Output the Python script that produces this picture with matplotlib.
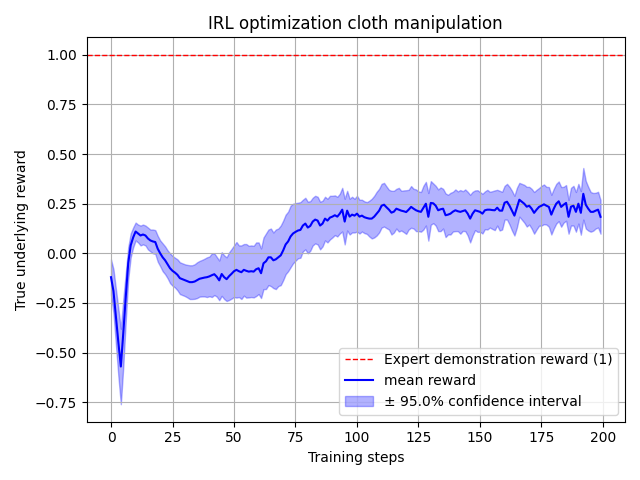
import matplotlib
matplotlib.use("Agg")
import matplotlib.pyplot as plt
import numpy as np

TITLE = "IRL optimization cloth manipulation"
EXPERT_REWARD = 1.0

# mean true reward per training step, steps 0..199
mean_reward = [
    -0.12, -0.19, -0.32, -0.45, -0.57, -0.40, -0.22, -0.05, 0.04, 0.08,
    0.11, 0.10, 0.09, 0.095, 0.09, 0.075, 0.065, 0.06, 0.057, 0.023,
    0.0, -0.02, -0.035, -0.055, -0.075, -0.088, -0.097, -0.108, -0.125, -0.13,
    -0.135, -0.14, -0.145, -0.145, -0.142, -0.135, -0.128, -0.125, -0.122, -0.12,
    -0.116, -0.11, -0.105, -0.118, -0.136, -0.104, -0.12, -0.13, -0.115, -0.103,
    -0.09, -0.083, -0.09, -0.095, -0.083, -0.088, -0.092, -0.09, -0.092, -0.08,
    -0.075, -0.10, -0.05, -0.04, -0.02, -0.02, -0.035, -0.03, -0.02, -0.01,
    0.015, 0.045, 0.06, 0.085, 0.10, 0.108, 0.115, 0.118, 0.14, 0.15,
    0.13, 0.138, 0.16, 0.17, 0.165, 0.14, 0.15, 0.175, 0.165, 0.18,
    0.185, 0.192, 0.185, 0.20, 0.22, 0.16, 0.215, 0.185, 0.195, 0.19,
    0.20, 0.185, 0.19, 0.182, 0.178, 0.175, 0.175, 0.185, 0.20, 0.215,
    0.24, 0.245, 0.232, 0.22, 0.205, 0.21, 0.225, 0.22, 0.215, 0.212,
    0.208, 0.22, 0.234, 0.225, 0.217, 0.212, 0.209, 0.23, 0.25, 0.184,
    0.254, 0.252, 0.24, 0.217, 0.222, 0.225, 0.192, 0.195, 0.20, 0.21,
    0.217, 0.212, 0.209, 0.213, 0.217, 0.20, 0.175, 0.20, 0.217, 0.213,
    0.209, 0.20, 0.217, 0.22, 0.22, 0.218, 0.217, 0.23, 0.215, 0.215,
    0.255, 0.26, 0.24, 0.215, 0.19, 0.23, 0.27, 0.26, 0.25, 0.235,
    0.24, 0.225, 0.204, 0.22, 0.234, 0.24, 0.247, 0.24, 0.234, 0.195,
    0.225, 0.25, 0.262, 0.234, 0.245, 0.254, 0.184, 0.235, 0.24, 0.209,
    0.25, 0.204, 0.30, 0.245, 0.225, 0.209, 0.209, 0.215, 0.22, 0.184,
]

# half-width of the 95% confidence interval per step
ci_half = [
    0.09, 0.11, 0.14, 0.17, 0.19, 0.17, 0.12, 0.08, 0.06, 0.05,
    0.045, 0.045, 0.05, 0.05, 0.05, 0.055, 0.055, 0.06, 0.06, 0.065,
    0.065, 0.07, 0.07, 0.07, 0.075, 0.075, 0.075, 0.078, 0.08, 0.08,
    0.08, 0.082, 0.085, 0.085, 0.087, 0.09, 0.09, 0.092, 0.095, 0.10,
    0.10, 0.11, 0.105, 0.10, 0.10, 0.11, 0.11, 0.11, 0.12, 0.125,
    0.13, 0.14, 0.13, 0.135, 0.13, 0.135, 0.13, 0.13, 0.13, 0.135,
    0.13, 0.125, 0.13, 0.14, 0.14, 0.145, 0.14, 0.15, 0.145, 0.15,
    0.15, 0.15, 0.15, 0.155, 0.15, 0.145, 0.14, 0.14, 0.13, 0.13,
    0.13, 0.125, 0.12, 0.12, 0.12, 0.12, 0.115, 0.11, 0.11, 0.11,
    0.105, 0.10, 0.10, 0.10, 0.11, 0.115, 0.10, 0.09, 0.09, 0.085,
    0.09, 0.085, 0.08, 0.08, 0.08, 0.09, 0.10, 0.105, 0.11, 0.11,
    0.11, 0.11, 0.105, 0.10, 0.11, 0.105, 0.10, 0.11, 0.10, 0.105,
    0.11, 0.10, 0.105, 0.10, 0.105, 0.10, 0.10, 0.11, 0.11, 0.12,
    0.11, 0.10, 0.10, 0.105, 0.11, 0.10, 0.11, 0.10, 0.105, 0.10,
    0.105, 0.10, 0.11, 0.10, 0.105, 0.11, 0.12, 0.11, 0.10, 0.105,
    0.10, 0.10, 0.095, 0.10, 0.09, 0.095, 0.10, 0.09, 0.10, 0.095,
    0.085, 0.09, 0.095, 0.10, 0.10, 0.10, 0.085, 0.09, 0.095, 0.10,
    0.095, 0.10, 0.105, 0.10, 0.095, 0.10, 0.10, 0.095, 0.10, 0.10,
    0.10, 0.10, 0.10, 0.10, 0.09, 0.09, 0.085, 0.095, 0.10, 0.10,
    0.10, 0.11, 0.13, 0.12, 0.11, 0.10, 0.095, 0.09, 0.09, 0.085,
]

steps = np.arange(len(mean_reward))
mean = np.array(mean_reward)
half = np.array(ci_half)

fig, ax = plt.subplots(figsize=(6.4, 4.8), dpi=100)
ax.axhline(EXPERT_REWARD, color="r", linestyle="--", linewidth=1,
           label="Expert demonstration reward (1)")
ax.plot(steps, mean, color="b", label="mean reward")
ax.fill_between(steps, mean - half, mean + half, color="b", alpha=0.3,
                label="\u00b1 95.0% confidence interval")

ax.set_title(TITLE)
ax.set_xlabel("Training steps")
ax.set_ylabel("True underlying reward")
ax.grid(True)
ax.legend(loc="lower right")
fig.tight_layout()
fig.savefig("out.png", dpi=100)
